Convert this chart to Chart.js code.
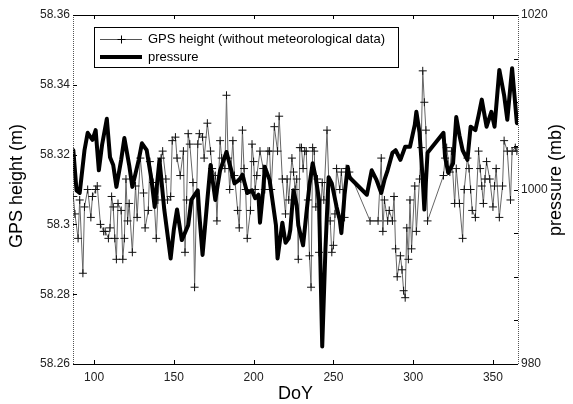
<!DOCTYPE html>
<html>
<head>
<meta charset="utf-8">
<script src="https://cdn.jsdelivr.net/npm/chart.js@4.4.0/dist/chart.umd.min.js"></script>
<style>
  html, body { margin: 0; padding: 0; background: #fff; }
</style>
</head>
<body>
<canvas id="gpsChart" width="573" height="404"></canvas>
<script>
// GPS height series (DoY, metres)
const gpsDays = [
  87, 88, 90, 91, 93, 94, 96, 98, 99, 101,
  102, 104, 106, 107, 109, 110, 111, 112, 113, 114,
  115, 117, 118, 119, 120, 121, 122, 124, 126, 127,
  129, 131, 132, 134, 135, 137, 139, 140, 142, 143,
  145, 146, 148, 149, 151, 152, 154, 156, 157, 158,
  159, 160, 162, 163, 165, 166, 168, 169, 171, 173,
  174, 176, 177, 179, 180, 182, 183, 184, 185, 187,
  188, 190, 191, 192, 193, 194, 195, 196, 198, 199,
  200, 201, 202, 204, 206, 207, 209, 210, 211, 213,
  215, 216, 218, 220, 221, 222, 224, 225, 226, 227,
  228, 229, 230, 231, 232, 233, 234, 235, 236, 237,
  238, 239, 240, 241, 243, 244, 246, 248, 249, 250,
  251, 252, 254, 255, 257, 258, 260, 273, 278, 280,
  281, 282, 284, 285, 287, 288, 289, 290, 292, 293,
  294, 295, 296, 297, 298, 299, 301, 302, 304, 305,
  306, 307, 308, 309, 319, 320, 321, 323, 324, 326,
  327, 329, 331, 332, 334, 335, 336, 337, 339, 341,
  342, 343, 344, 345, 346, 348, 350, 351, 352, 354,
  356, 357, 359, 361, 362, 364, 365
];
const gpsHeight = [
  58.308, 58.303, 58.296, 58.307, 58.286, 58.305, 58.310, 58.302, 58.308, 58.310,
  58.311, 58.300, 58.298, 58.298, 58.296, 58.299, 58.308, 58.305, 58.296, 58.290,
  58.306, 58.304, 58.290, 58.296, 58.313, 58.301, 58.306, 58.292, 58.311, 58.302,
  58.319, 58.309, 58.299, 58.304, 58.318, 58.312, 58.296, 58.307, 58.319, 58.321,
  58.313, 58.307, 58.308, 58.324, 58.325, 58.319, 58.314, 58.321, 58.292, 58.307,
  58.326, 58.323, 58.312, 58.282, 58.323, 58.326, 58.325, 58.319, 58.329, 58.321,
  58.316, 58.314, 58.301, 58.324, 58.319, 58.316, 58.337, 58.319, 58.310, 58.324,
  58.314, 58.304, 58.299, 58.313, 58.327, 58.316, 58.310, 58.296, 58.304, 58.323,
  58.318, 58.310, 58.314, 58.321, 58.316, 58.310, 58.321, 58.321, 58.310, 58.328,
  58.321, 58.331, 58.313, 58.303, 58.313, 58.307, 58.319, 58.315, 58.310, 58.313,
  58.290, 58.322, 58.322, 58.316, 58.321, 58.321, 58.307, 58.291, 58.282, 58.322,
  58.321, 58.305, 58.313, 58.292, 58.312, 58.307, 58.327, 58.301, 58.292, 58.294,
  58.303, 58.316, 58.310, 58.315, 58.302, 58.316, 58.315, 58.301, 58.301, 58.319,
  58.298, 58.307, 58.301, 58.304, 58.301, 58.308, 58.293, 58.285, 58.291, 58.287,
  58.281, 58.279, 58.299, 58.290, 58.307, 58.293, 58.311, 58.298, 58.313, 58.322,
  58.344, 58.335, 58.327, 58.301, 58.314, 58.319, 58.322, 58.315, 58.321, 58.306,
  58.316, 58.306, 58.296, 58.310, 58.319, 58.316, 58.310, 58.304, 58.302, 58.321,
  58.316, 58.311, 58.306, 58.313, 58.318, 58.313, 58.305, 58.311, 58.316, 58.302,
  58.311, 58.324, 58.321, 58.307, 58.321, 58.322, 58.321
];

// pressure series (DoY, mb)
const pressureDays = [
  87, 89, 91, 94, 96, 99, 101, 103, 105, 108,
  110, 112, 114, 117, 119, 122, 124, 128, 130, 133,
  136, 138, 141, 144, 148, 150, 152, 155, 159, 161,
  165, 166, 168, 171, 173, 176, 179, 183, 186, 188,
  191, 193, 196, 199, 201, 203, 204, 206, 207, 210,
  212, 214, 215, 218, 220, 222, 223, 225, 227, 228,
  231, 233, 235, 237, 239, 241, 243, 245, 247, 249,
  252, 254, 255, 257, 259, 260, 271, 274, 277, 280,
  282, 284, 287, 289, 292, 295, 298, 301, 302, 304,
  306, 307, 309, 319, 320, 322, 325, 327, 329, 331,
  334, 336, 339, 341, 343, 346, 349, 351, 354, 357,
  359, 362, 365
];
const pressure = [
  1004.5, 999.9, 999.6, 1004.5, 1006.5, 1005.7, 1006.8, 1002.2, 1005.1, 1008.1,
  1003.7, 1002.8, 1000.3, 1003.4, 1005.9, 1002.8, 1000.3, 1003.4, 1005.3, 1004.5,
  1001.1, 998.0, 1003.4, 997.7, 992.1, 995.4, 997.7, 994.2, 995.9, 998.8,
  999.9, 997.1, 992.5, 998.8, 1002.8, 998.8, 1002.2, 1004.3, 1002.2, 1000.7,
  1001.1, 1001.7, 999.6, 999.9, 999.0, 999.4, 996.2, 999.9, 1002.6, 1001.1,
  998.5, 995.9, 992.1, 996.2, 993.9, 994.4, 995.4, 999.9, 998.2, 995.9,
  993.6, 997.1, 1000.5, 1003.0, 1001.3, 998.8, 982.0, 993.1, 1001.4, 1000.7,
  998.0, 996.5, 995.0, 999.4, 1002.6, 1001.4, 999.4, 1002.2, 1001.1, 999.6,
  1001.1, 1002.2, 1004.2, 1004.5, 1003.4, 1004.9, 1004.9, 1007.4, 1008.9, 1006.5,
  1001.1, 997.7, 1004.2, 1006.5, 1003.7, 1001.9, 1003.0, 1008.3, 1006.2, 1004.5,
  1003.4, 1007.2, 1006.8, 1008.5, 1010.3, 1007.2, 1008.9, 1007.2, 1013.7, 1010.8,
  1008.0, 1013.9, 1007.6
];

// axis ticks
const dayTicks = [100, 150, 200, 250, 300, 350];
const heightTicks = [58.26, 58.28, 58.30, 58.32, 58.34, 58.36];
const heightTickLabels = ['58.26', '58.28', '58.3', '58.32', '58.34', '58.36'];
const pressureTicks = [980, 1000, 1020];
const pressureTickLabels = ['980', '1000', '1020'];
const pressureMinorTicks = [985, 990, 995, 1005, 1010, 1015];

const FONT = "'Liberation Sans', Arial, Helvetica, sans-serif";
const gpsPoints = gpsDays.map((d, i) => ({ x: d, y: gpsHeight[i] }));
const pressurePoints = pressureDays.map((d, i) => ({ x: d, y: pressure[i] }));

// box, inward ticks, titles and legend (matlab style)
const frame = {
  id: 'frame',
  afterDatasetsDraw(chart) {
    const { ctx, chartArea: a, scales } = chart;
    ctx.save();
    ctx.lineWidth = 1;

    ctx.strokeStyle = '#000';
    ctx.beginPath();
    ctx.moveTo(a.left, a.top + 0.5); ctx.lineTo(a.right, a.top + 0.5);
    ctx.moveTo(a.left, a.bottom + 0.5); ctx.lineTo(a.right, a.bottom + 0.5);
    ctx.stroke();
    ctx.strokeStyle = '#555';
    ctx.setLineDash([1, 1]);
    ctx.beginPath();
    ctx.moveTo(a.left + 0.5, a.top); ctx.lineTo(a.left + 0.5, a.bottom);
    ctx.moveTo(a.right + 0.5, a.top); ctx.lineTo(a.right + 0.5, a.bottom);
    ctx.stroke();
    ctx.setLineDash([]);

    ctx.strokeStyle = '#000';
    ctx.beginPath();
    dayTicks.forEach(v => {
      const px = Math.round(scales.x.getPixelForValue(v)) + 0.5;
      ctx.moveTo(px, a.bottom); ctx.lineTo(px, a.bottom - 4);
      ctx.moveTo(px, a.top); ctx.lineTo(px, a.top + 4);
    });
    heightTicks.forEach(v => {
      const py = Math.round(scales.y.getPixelForValue(v)) + 0.5;
      ctx.moveTo(a.left, py); ctx.lineTo(a.left + 4, py);
    });
    pressureTicks.concat(pressureMinorTicks).forEach(v => {
      const py = Math.round(scales.y1.getPixelForValue(v)) + 0.5;
      ctx.moveTo(a.right, py); ctx.lineTo(a.right - 4, py);
    });
    ctx.stroke();

    // legend
    const lx = 94, ly = 27, lw = 304, lh = 40;
    ctx.fillStyle = '#fff';
    ctx.fillRect(lx, ly, lw, lh);
    ctx.strokeStyle = '#000';
    ctx.strokeRect(lx + 0.5, ly + 0.5, lw, lh);
    ctx.strokeStyle = '#555';
    ctx.beginPath();
    ctx.moveTo(100, 39.5); ctx.lineTo(142, 39.5);
    ctx.stroke();
    ctx.strokeStyle = '#000';
    ctx.beginPath();
    ctx.moveTo(117.5, 39.5); ctx.lineTo(125.5, 39.5);
    ctx.moveTo(121.5, 35.5); ctx.lineTo(121.5, 43.5);
    ctx.stroke();
    ctx.lineWidth = 4;
    ctx.beginPath();
    ctx.moveTo(100, 57); ctx.lineTo(142, 57);
    ctx.stroke();
    ctx.fillStyle = '#000';
    ctx.font = '13px ' + FONT;
    ctx.textAlign = 'left';
    ctx.textBaseline = 'middle';
    ctx.fillText('GPS height (without meteorological data)', 148, 39);
    ctx.fillText('pressure', 148, 57);

    // axis titles
    ctx.font = '18px ' + FONT;
    ctx.textAlign = 'center';
    ctx.fillText('DoY', (a.left + a.right) / 2, 394);
    ctx.translate(17, 186);
    ctx.rotate(-Math.PI / 2);
    ctx.fillText('GPS height (m)', 0, 0);
    ctx.rotate(Math.PI / 2);
    ctx.translate(556 - 17, 180 - 186);
    ctx.rotate(-Math.PI / 2);
    ctx.fillText('pressure (mb)', 0, 0);
    ctx.restore();
  }
};

const tickFont = { family: FONT, size: 12 };

new Chart(document.getElementById('gpsChart'), {
  type: 'line',
  data: {
    datasets: [
      {
        label: 'pressure',
        data: pressurePoints,
        yAxisID: 'y1',
        order: 0,
        borderColor: '#000',
        borderWidth: 4,
        borderJoinStyle: 'round',
        borderCapStyle: 'round',
        pointRadius: 0,
        tension: 0
      },
      {
        label: 'GPS height (without meteorological data)',
        data: gpsPoints,
        yAxisID: 'y',
        order: 1,
        borderColor: '#666',
        borderWidth: 1,
        pointStyle: 'cross',
        pointRadius: 4,
        pointBorderWidth: 1,
        pointBorderColor: '#111',
        tension: 0
      }
    ]
  },
  options: {
    responsive: false,
    devicePixelRatio: 1,
    animation: false,
    layout: { padding: { top: 15, left: 0, right: 0, bottom: 0 } },
    plugins: {
      legend: { display: false },
      tooltip: { enabled: false }
    },
    scales: {
      x: {
        type: 'linear',
        min: 86.8,
        max: 365.7,
        afterBuildTicks: s => { s.ticks = dayTicks.map(v => ({ value: v })); },
        afterFit: s => { s.height = 40; },
        grid: { display: false, drawTicks: false },
        border: { display: false },
        ticks: { font: tickFont, color: '#222', padding: 6, maxRotation: 0, autoSkip: false }
      },
      y: {
        position: 'left',
        min: 58.26,
        max: 58.36,
        afterBuildTicks: s => { s.ticks = heightTicks.map(v => ({ value: v })); },
        afterFit: s => { s.width = 73; },
        grid: { display: false, drawTicks: false },
        border: { display: false },
        ticks: { font: tickFont, color: '#222', padding: 3, callback: (v, i) => heightTickLabels[i] }
      },
      y1: {
        position: 'right',
        min: 980,
        max: 1020,
        afterBuildTicks: s => { s.ticks = pressureTicks.map(v => ({ value: v })); },
        afterFit: s => { s.width = 55; },
        grid: { display: false, drawTicks: false },
        border: { display: false },
        ticks: { font: tickFont, color: '#222', padding: 3, callback: (v, i) => pressureTickLabels[i] }
      }
    }
  },
  plugins: [frame]
});
</script>
</body>
</html>
